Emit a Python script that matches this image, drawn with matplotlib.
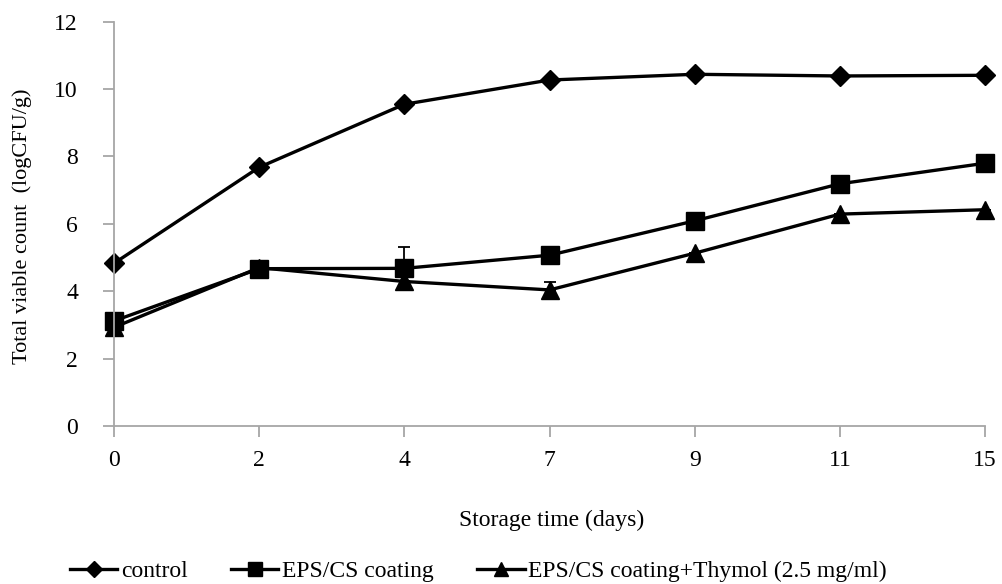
import numpy as np
import matplotlib.pyplot as plt

plt.rcParams['font.family'] = ['Liberation Serif', 'DejaVu Serif']

days = ['0', '2', '4', '7', '9', '11', '15']
control = [4.83, 7.68, 9.55, 10.27, 10.44, 10.39, 10.41]
eps_cs = [3.12, 4.67, 4.68, 5.07, 6.09, 7.19, 7.80]
eps_cs_thymol = [2.93, 4.70, 4.29, 4.04, 5.13, 6.29, 6.42]
eps_cs_err = [0, 0, 0.62, 0, 0, 0, 0]
thymol_err = [0, 0, 0, 0.24, 0, 0, 0]

x = np.arange(len(days))
grey = '#a6a6a6'
fs = 17

fig = plt.figure(figsize=(10.02, 5.84), dpi=100)
ax = fig.add_axes([0.1138, 0.2705, 0.8693, 0.6923])

# error bars first, so markers sit on top
ax.errorbar(x, eps_cs, yerr=[np.zeros(len(x)), eps_cs_err], fmt='none',
            ecolor='black', elinewidth=1.3, capsize=4, capthick=1.3)
ax.errorbar(x, eps_cs_thymol, yerr=[np.zeros(len(x)), thymol_err], fmt='none',
            ecolor='black', elinewidth=1.3, capsize=4, capthick=1.3)

l1, = ax.plot(x, control, color='black', lw=2.4, marker='D', markersize=10.5,
              label='control')
l2, = ax.plot(x, eps_cs, color='black', lw=2.4, marker='s', markersize=13,
              label='EPS/CS coating')
l3, = ax.plot(x, eps_cs_thymol, color='black', lw=2.4, marker='^', markersize=13.5,
              label='EPS/CS coating+Thymol (2.5 mg/ml)')

ax.set_xlim(0, len(days) - 1)
ax.set_ylim(0, 12)
ax.set_xticks(x)
ax.set_xticklabels(days)
ax.set_yticks(range(0, 13, 2))

for side in ['top', 'right']:
    ax.spines[side].set_visible(False)
for side in ['left', 'bottom']:
    ax.spines[side].set_color(grey)
    ax.spines[side].set_linewidth(1.3)
ax.tick_params(axis='both', direction='out', length=8, width=1.3, color=grey,
               labelsize=fs)
ax.tick_params(axis='x', pad=9)
ax.tick_params(axis='y', pad=18)
for ln in ax.lines:
    ln.set_clip_on(False)

fig.text(552 / 1002, 1 - 520 / 584, 'Storage time (days)', fontsize=fs,
         ha='center', va='center')
fig.text(22 / 1002, 1 - 226 / 584, 'Total viable count  (logCFU/g)', fontsize=16,
         rotation=90, ha='center', va='center')

fig.legend(handles=[l1, l2, l3], loc='center left',
           bbox_to_anchor=(70 / 1002, 1 - 571 / 584),
           ncol=3, frameon=False, fontsize=fs, borderpad=0, borderaxespad=0,
           handlelength=2.0, handletextpad=0.15, columnspacing=1.85,
           markerscale=0.75)

fig.savefig('out.png', dpi=100)
